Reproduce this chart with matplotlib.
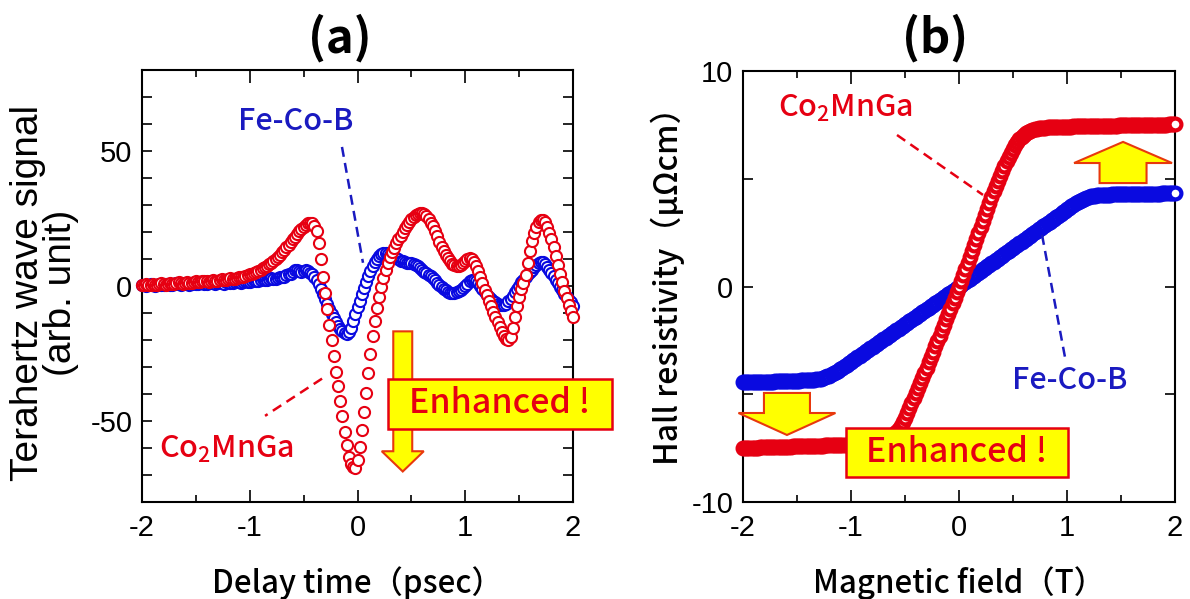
import numpy as np
import matplotlib
matplotlib.use('Agg')
import matplotlib.pyplot as plt
from matplotlib.patches import Polygon, Rectangle
from matplotlib.ticker import MultipleLocator

plt.rcParams['font.family'] = ['Liberation Sans', 'DejaVu Sans']
plt.rcParams['axes.unicode_minus'] = False
plt.rcParams['mathtext.fontset'] = 'custom'
plt.rcParams['mathtext.rm'] = 'Noto Sans CJK JP'
plt.rcParams['mathtext.it'] = 'Noto Sans CJK JP'
plt.rcParams['mathtext.default'] = 'regular'

JP = 'Noto Sans CJK JP'
RED = '#e60012'
BLUE = '#0a0ae0'
TXT_BLUE = '#1a1ac0'

# (a) terahertz wave signal, delay time -2 .. 2 psec in 0.02 steps (rows of 0.2 psec)
thz_cmg = [
    0.5, 0.3, 0.6, 0.2, 0.4, 0.8, 0.5, 0.3, 0.7, 1.0,
    0.6, 0.4, 0.8, 1.1, 0.9, 0.6, 1.0, 1.3, 1.0, 0.8,
    1.2, 1.5, 1.2, 1.0, 1.4, 1.7, 1.4, 1.3, 1.7, 2.0,
    1.7, 1.5, 1.9, 2.2, 2.0, 1.8, 2.2, 2.6, 2.3, 2.1,
    2.5, 2.9, 2.7, 2.6, 3.0, 3.4, 3.3, 3.3, 3.7, 4.1,
    4.3, 4.6, 5.0, 5.3, 5.7, 6.1, 6.5, 6.9, 7.4, 8.0,
    8.6, 9.3, 10.0, 10.8, 11.6, 12.5, 13.4, 14.3, 15.3, 16.3,
    17.3, 18.3, 19.3, 20.3, 21.2, 22.0, 22.7, 23.2, 23.5, 23.3,
    22.3, 20.2, 16.0, 10.0, 3.5, -2.7, -8.5, -14.3, -20.0, -26.0,
    -31.8, -37.2, -42.6, -48.3, -54.0, -59.0, -63.2, -65.8, -67.2, -67.3,
    -64.5, -59.8, -53.5, -46.8, -39.5, -32.2, -25.2, -18.7, -13.0, -8.2,
    -4.0, -0.3, 3.0, 5.8, 8.4, 10.6, 12.5, 14.2, 15.8, 17.3,
    18.7, 20.0, 21.3, 22.5, 23.6, 24.7, 25.6, 26.3, 26.8, 27.1,
    27.1, 26.7, 25.9, 24.8, 23.5, 22.2, 20.5, 18.4, 16.3, 14.5,
    12.9, 11.5, 10.2, 9.1, 8.2, 7.6, 7.4, 7.5, 7.9, 8.5,
    9.3, 10.0, 10.3, 10.0, 9.0, 7.5, 5.6, 3.4, 1.0, -1.3,
    -3.5, -5.5, -7.5, -9.5, -11.4, -13.3, -15.2, -17.0, -18.6, -19.8,
    -20.0, -18.8, -15.5, -11.3, -7.3, -4.0, -1.2, 1.2, 4.2, 8.5,
    13.0, 16.5, 19.6, 22.0, 23.6, 24.5, 24.5, 23.6, 22.0, 19.8,
    17.4, 14.6, 11.2, 7.8, 4.5, 1.3, -1.8, -4.6, -7.0, -9.3,
    -11.3,
]
thz_fcb = [
    0.2, 0.5, 0.1, 0.4, 0.7, 0.3, 0.1, 0.5, 0.8, 0.4,
    0.2, 0.6, 0.9, 0.5, 0.3, 0.7, 1.0, 0.6, 0.4, 0.8,
    1.0, 0.6, 0.5, 0.9, 1.2, 0.8, 0.6, 1.0, 1.3, 0.9,
    0.7, 1.1, 1.4, 1.0, 0.8, 1.2, 1.5, 1.1, 0.9, 1.3,
    1.6, 1.2, 1.0, 1.4, 1.7, 1.3, 1.2, 1.6, 1.9, 1.6,
    1.5, 1.9, 2.2, 1.9, 1.8, 2.2, 2.5, 2.3, 2.2, 2.6,
    2.9, 2.7, 2.7, 3.1, 3.4, 3.3, 3.5, 4.0, 4.4, 4.6,
    5.2, 5.8, 5.9, 5.5, 5.3, 5.6, 6.0, 5.7, 5.0, 4.5,
    3.4, 2.2, 0.8, -1.0, -2.9, -4.8, -6.7, -8.6, -10.4, -12.0,
    -13.4, -14.7, -15.8, -16.7, -17.3, -17.6, -17.0, -15.7, -13.0, -10.4,
    -7.8, -5.4, -3.0, -0.8, 1.4, 3.6, 5.6, 7.4, 8.9, 10.1,
    11.0, 11.7, 12.1, 12.2, 12.0, 11.6, 11.2, 10.8, 10.3, 9.9,
    9.4, 9.2, 9.0, 8.7, 8.5, 8.6, 8.3, 7.9, 7.4, 6.5,
    6.0, 5.3, 4.7, 4.2, 3.6, 2.9, 2.1, 1.2, 0.3, -0.5,
    -1.1, -1.6, -2.1, -2.5, -2.7, -2.6, -2.4, -2.0, -1.5, -0.8,
    0.0, 0.9, 1.7, 2.2, 2.2, 1.7, 1.0, 0.1, -1.2, -2.4,
    -3.3, -4.1, -4.8, -5.4, -6.0, -6.5, -6.9, -7.1, -7.0, -6.5,
    -5.7, -4.7, -3.6, -2.4, -1.1, 0.1, 1.3, 2.4, 3.4, 4.3,
    5.2, 6.1, 7.0, 7.8, 8.5, 9.0, 8.9, 8.2, 7.2, 6.0,
    4.8, 3.6, 2.3, 1.0, -0.3, -1.6, -2.8, -4.0, -5.0, -6.1,
    -7.3,
]

# (b) Hall resistivity, magnetic field -2 .. 2 T in 0.02 steps
hall_cmg = [
    -7.50, -7.50, -7.49, -7.49, -7.49, -7.48, -7.48, -7.48, -7.47, -7.47,
    -7.47, -7.46, -7.46, -7.46, -7.45, -7.45, -7.45, -7.44, -7.44, -7.44,
    -7.43, -7.43, -7.43, -7.42, -7.42, -7.42, -7.41, -7.41, -7.41, -7.40,
    -7.40, -7.40, -7.39, -7.39, -7.39, -7.38, -7.38, -7.38, -7.37, -7.37,
    -7.37, -7.36, -7.36, -7.36, -7.35, -7.35, -7.35, -7.34, -7.34, -7.34,
    -7.33, -7.33, -7.33, -7.32, -7.32, -7.32, -7.31, -7.31, -7.31, -7.30,
    -7.30, -7.29, -7.28, -7.26, -7.24, -7.21, -7.17, -7.12, -7.06, -6.98,
    -6.88, -6.76, -6.62, -6.46, -6.28, -6.08, -5.87, -5.65, -5.42, -5.19,
    -4.96, -4.72, -4.48, -4.24, -4.00, -3.76, -3.52, -3.28, -3.03, -2.78,
    -2.53, -2.28, -2.03, -1.78, -1.53, -1.28, -1.03, -0.78, -0.52, -0.26,
    0.00, 0.27, 0.54, 0.81, 1.08, 1.36, 1.64, 1.92, 2.20, 2.48,
    2.76, 3.04, 3.32, 3.60, 3.88, 4.15, 4.41, 4.66, 4.90, 5.14,
    5.37, 5.60, 5.82, 6.02, 6.21, 6.39, 6.55, 6.70, 6.83, 6.94,
    7.04, 7.12, 7.18, 7.23, 7.27, 7.30, 7.32, 7.34, 7.35, 7.36,
    7.37, 7.38, 7.38, 7.39, 7.39, 7.40, 7.40, 7.41, 7.41, 7.41,
    7.42, 7.42, 7.42, 7.43, 7.43, 7.43, 7.44, 7.44, 7.44, 7.44,
    7.45, 7.45, 7.45, 7.45, 7.46, 7.46, 7.46, 7.46, 7.46, 7.47,
    7.47, 7.47, 7.47, 7.47, 7.48, 7.48, 7.48, 7.48, 7.48, 7.48,
    7.49, 7.49, 7.49, 7.49, 7.49, 7.49, 7.50, 7.50, 7.50, 7.50,
    7.50, 7.50, 7.51, 7.51, 7.51, 7.51, 7.51, 7.52, 7.52, 7.52,
    7.52,
]
hall_fcb = [
    -4.45, -4.45, -4.45, -4.44, -4.44, -4.44, -4.43, -4.43, -4.43, -4.42,
    -4.42, -4.42, -4.41, -4.41, -4.41, -4.40, -4.40, -4.40, -4.39, -4.39,
    -4.39, -4.38, -4.38, -4.38, -4.37, -4.37, -4.37, -4.36, -4.36, -4.35,
    -4.35, -4.34, -4.33, -4.32, -4.31, -4.29, -4.27, -4.24, -4.21, -4.17,
    -4.13, -4.08, -4.03, -3.97, -3.91, -3.85, -3.78, -3.71, -3.64, -3.57,
    -3.50, -3.43, -3.36, -3.29, -3.22, -3.15, -3.08, -3.01, -2.94, -2.87,
    -2.80, -2.73, -2.66, -2.59, -2.52, -2.45, -2.38, -2.31, -2.24, -2.17,
    -2.10, -2.03, -1.96, -1.89, -1.82, -1.75, -1.68, -1.61, -1.54, -1.47,
    -1.40, -1.33, -1.26, -1.19, -1.12, -1.05, -0.98, -0.91, -0.84, -0.77,
    -0.70, -0.63, -0.56, -0.49, -0.42, -0.35, -0.28, -0.21, -0.14, -0.07,
    0.00, 0.07, 0.14, 0.21, 0.29, 0.36, 0.43, 0.50, 0.57, 0.64,
    0.72, 0.79, 0.86, 0.93, 1.00, 1.07, 1.15, 1.22, 1.29, 1.36,
    1.43, 1.50, 1.58, 1.65, 1.72, 1.79, 1.86, 1.93, 2.01, 2.08,
    2.15, 2.22, 2.29, 2.36, 2.44, 2.51, 2.58, 2.65, 2.72, 2.79,
    2.86, 2.94, 3.01, 3.08, 3.15, 3.22, 3.29, 3.37, 3.44, 3.51,
    3.58, 3.65, 3.72, 3.79, 3.86, 3.92, 3.98, 4.03, 4.08, 4.12,
    4.15, 4.18, 4.20, 4.22, 4.23, 4.24, 4.25, 4.25, 4.26, 4.26,
    4.26, 4.27, 4.27, 4.27, 4.28, 4.28, 4.28, 4.28, 4.29, 4.29,
    4.29, 4.29, 4.29, 4.30, 4.30, 4.30, 4.30, 4.30, 4.31, 4.31,
    4.31, 4.31, 4.31, 4.31, 4.32, 4.32, 4.32, 4.32, 4.32, 4.32,
    4.32,
]

delay = np.linspace(-2, 2, len(thz_cmg))
field = np.linspace(-2, 2, len(hall_cmg))


def block_arrow(ax, xc, y_tail, y_tip, shaft_w, head_w, head_len):
    s = 1 if y_tip > y_tail else -1
    yb = y_tip - s * head_len
    pts = [(xc - shaft_w / 2, y_tail), (xc - shaft_w / 2, yb), (xc - head_w / 2, yb),
           (xc, y_tip), (xc + head_w / 2, yb), (xc + shaft_w / 2, yb),
           (xc + shaft_w / 2, y_tail)]
    ax.add_patch(Polygon(pts, closed=True, fc='#ffff00', ec='#e8380d', lw=1.5,
                         zorder=6, clip_on=False))


def enhanced_box(ax, x0, x1, y0, y1):
    ax.add_patch(Rectangle((x0, y0), x1 - x0, y1 - y0, fc='#ffff00', ec=RED, lw=1.8,
                           zorder=7, clip_on=False))
    ax.text((x0 + x1) / 2, (y0 + y1) / 2, 'Enhanced !', color=RED, fontsize=24.5,
            family=JP, weight='medium', ha='center', va='center', zorder=8,
            clip_on=False)


def style_axes(ax):
    for sp in ax.spines.values():
        sp.set_linewidth(1.5)
    ax.tick_params(which='both', direction='in', top=True, right=True, width=1.2,
                   labelsize=21)
    ax.tick_params(axis='x', which='major', length=9, pad=9)
    ax.tick_params(axis='x', which='minor', length=5)
    ax.tick_params(axis='y', which='both', length=7, pad=7)
    ax.set_xlim(-2, 2)
    ax.xaxis.set_major_locator(MultipleLocator(1))
    ax.xaxis.set_minor_locator(MultipleLocator(0.5))


fig = plt.figure(figsize=(11.9, 5.99), dpi=100)

# ---- (a) ----
ax1 = fig.add_axes([142 / 1190, 1 - 502 / 599, 431 / 1190, 432 / 599])
style_axes(ax1)
ax1.set_ylim(-80, 80)
ax1.yaxis.set_major_locator(MultipleLocator(50))
ax1.yaxis.set_minor_locator(MultipleLocator(10))
ax1.plot(delay, thz_fcb, 'o', ms=8, mfc='white', mec=BLUE, mew=1.5, clip_on=False, zorder=3)
ax1.plot(delay, thz_cmg, 'o', ms=8, mfc='white', mec=RED, mew=1.5, clip_on=False, zorder=4)

ax1.plot([-0.144, 0.051], [51.5, 8.6], color=TXT_BLUE, lw=1.8, ls=(0, (4, 2.5)), zorder=5)
ax1.plot([-0.329, -0.858], [-34.3, -48.1], color=RED, lw=1.8, ls=(0, (4, 2.5)), zorder=5)
ax1.text(-0.571, 60.8, 'Fe-Co-B', color=TXT_BLUE, fontsize=22, family=JP,
         weight='medium', ha='center', va='center')
ax1.text(-1.22, -60.4, 'Co$_2$MnGa', color=RED, fontsize=22, family=JP,
         weight='medium', ha='center', va='center')

block_arrow(ax1, 0.42, -16.8, -68.7, 0.176, 0.39, 7.5)
enhanced_box(ax1, 0.283, 2.362, -53.0, -34.3)

ax1.set_xlabel('Delay time（psec）', family=JP, weight='medium', fontsize=22.5)
ax1.xaxis.set_label_coords(0.5, -0.1875)
ax1.xaxis.label.set_va('center')
ax1.set_ylabel('Terahertz wave signal\n(arb. unit)', fontsize=28, linespacing=0.9)
ax1.yaxis.set_label_coords(-0.227, 0.484)
ax1.yaxis.label.set_va('center')

# ---- (b) ----
ax2 = fig.add_axes([743 / 1190, 1 - 502 / 599, 432 / 1190, 431 / 599])
style_axes(ax2)
ax2.set_ylim(-10, 10)
ax2.yaxis.set_major_locator(MultipleLocator(10))
ax2.yaxis.set_minor_locator(MultipleLocator(5))
ax2.plot(field, hall_fcb, 'o', ms=8.5, mfc='white', mec=BLUE, mew=3, clip_on=False, zorder=3)
ax2.plot(field, hall_cmg, 'o', ms=8.5, mfc='white', mec=RED, mew=3, clip_on=False, zorder=4)

ax2.plot([-0.574, 0.222], [7.03, 4.25], color=RED, lw=1.8, ls=(0, (4, 2.5)), zorder=5)
ax2.plot([0.769, 0.981], [2.39, -3.27], color=TXT_BLUE, lw=1.8, ls=(0, (4, 2.5)), zorder=5)
ax2.text(-1.056, 8.28, 'Co$_2$MnGa', color=RED, fontsize=22, family=JP,
         weight='medium', ha='center', va='center')
ax2.text(1.028, -4.34, 'Fe-Co-B', color=TXT_BLUE, fontsize=22, family=JP,
         weight='medium', ha='center', va='center')

block_arrow(ax2, 1.519, 4.80, 6.71, 0.435, 0.907, 0.98)
block_arrow(ax2, -1.593, -4.94, -6.89, 0.426, 0.898, 1.02)
enhanced_box(ax2, -1.046, 1.009, -8.84, -6.57)

ax2.set_xlabel('Magnetic field（T）', family=JP, weight='medium', fontsize=22.5)
ax2.xaxis.set_label_coords(0.5, -0.1875)
ax2.xaxis.label.set_va('center')
ax2.set_ylabel('Hall resistivity（μΩcm）', family=JP, weight='medium', fontsize=23)
ax2.yaxis.set_label_coords(-0.1736, 0.52)
ax2.yaxis.label.set_va('center')

fig.text(340 / 1190, 1 - 38 / 599, '(a)', family=JP, weight='bold', fontsize=34,
         ha='center', va='center')
fig.text(935 / 1190, 1 - 38 / 599, '(b)', family=JP, weight='bold', fontsize=34,
         ha='center', va='center')

fig.savefig('out.png', dpi=100)
